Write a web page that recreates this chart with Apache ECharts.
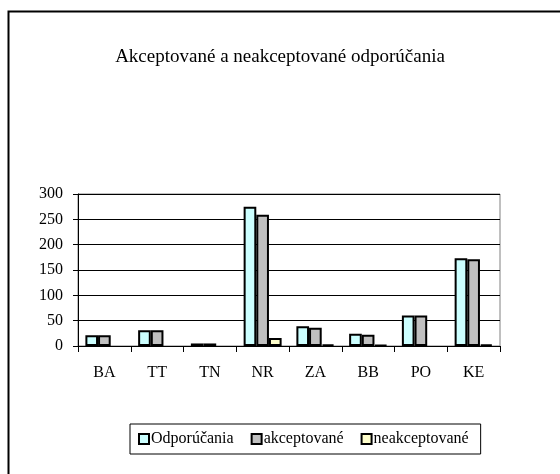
<!DOCTYPE html>
<html>
	<head>
		<meta charset="utf-8">
		<title></title>
		<script src="https://cdn.jsdelivr.net/npm/echarts@6/dist/echarts.min.js"></script>
		<style>
			body { margin: 0; background: #fff; }
		</style>
	</head>
	<body>
		<div id="main" style="width: 560px;height:474px;"></div>
		<script>
			// kraje
			var kraje = ['BA', 'TT', 'TN', 'NR', 'ZA', 'BB', 'PO', 'KE'];
			var odporucania = [21, 31, 5, 275, 39, 24, 60, 173];
			var akceptovane = [21, 31, 5, 259, 36, 22, 60, 171];
			var neakceptovane = [0, 0, 0, 16, 3, 2, 0, 3];
			var osY = [0, 50, 100, 150, 200, 250, 300];

			var pismo = 'Liberation Serif';
			var myChart = echarts.init(document.getElementById('main'));

			function seria(nazov, data, farba) {
				return {
					name: nazov,
					type: 'bar',
					// nulove stlpce sa nekreslia
					data: data.map(function(v) { return v === 0 ? '-' : v; }),
					barGap: '0%',
					barCategoryGap: '28%',
					itemStyle: {
						color: farba,
						borderColor: '#000',
						borderWidth: 2
					}
				};
			}

			var option = {
				animation: false,
				backgroundColor: '#fff',
				textStyle: { fontFamily: pismo },
				graphic: [{
					type: 'rect',
					shape: { x: 8.5, y: 11.5, width: 600, height: 600 },
					style: { fill: 'none', stroke: '#000', lineWidth: 2 }
				}],
				title: {
					text: 'Akceptované a neakceptované odporúčania',
					left: 'center',
					top: 43,
					textStyle: { fontFamily: pismo, fontSize: 19, fontWeight: 'normal', color: '#000' }
				},
				legend: {
					top: 424,
					left: 130,
					itemWidth: 10,
					itemHeight: 10,
					itemGap: 17,
					padding: [7, 12, 7, 8],
					borderColor: '#000',
					borderWidth: 1,
					icon: 'rect',
					itemStyle: { borderColor: '#000', borderWidth: 2 },
					textStyle: { fontFamily: pismo, fontSize: 16, color: '#000', padding: [0, 0, 0, -3] },
					data: ['Odporúčania', 'akceptované', 'neakceptované']
				},
				grid: {
					left: 78,
					right: 60,
					top: 194,
					bottom: 128,
					show: true,
					borderColor: '#808080',
					borderWidth: 1
				},
				xAxis: {
					type: 'category',
					data: kraje,
					axisLine: { lineStyle: { color: '#000', width: 1 } },
					axisTick: { show: true, alignWithLabel: false, length: 6, lineStyle: { color: '#000' } },
					axisLabel: { fontFamily: pismo, fontSize: 16, color: '#000', margin: 19 }
				},
				yAxis: {
					type: 'value',
					min: osY[0],
					max: osY[osY.length - 1],
					interval: 50,
					axisLine: { show: true, lineStyle: { color: '#000', width: 1 } },
					axisTick: { show: true, length: 5, lineStyle: { color: '#000' } },
					splitLine: { lineStyle: { color: '#000', width: 1 } },
					axisLabel: { fontFamily: pismo, fontSize: 16, color: '#000', margin: 15 }
				},
				series: [
					seria('Odporúčania', odporucania, '#CCFFFF'),
					seria('akceptované', akceptovane, '#C0C0C0'),
					seria('neakceptované', neakceptovane, '#FFFFCC')
				]
			};
			myChart.setOption(option);
		</script>
	</body>
</html>
